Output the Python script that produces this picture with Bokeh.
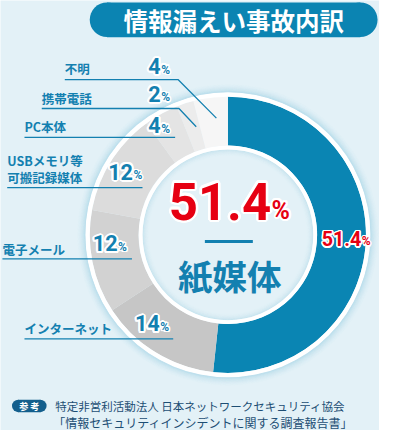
import numpy as np
from bokeh.plotting import figure
from bokeh.models import Range1d
from bokeh.core.properties import value
from bokeh.embed import file_html
from bokeh.resources import INLINE

# ---------------- data ----------------
categories = ["紙媒体", "インターネット", "電子メール", "USBメモリ等\n可搬記録媒体", "PC本体", "携帯電話", "不明"]
values = [51.4, 14, 12, 12, 4, 2, 4]
value_labels = ["51.4", "14", "12", "12", "4", "2", "4"]
title = "情報漏えい事故内訳"
source_badge = "参 考"
source_lines = ["特定非営利活動法人 日本ネットワークセキュリティ協会",
                "「情報セキュリティインシデントに関する調査報告書」"]

# ---------------- styles ----------------
seg_colors = ["#0a85b3", "#c6c6c6", "#d2d2d2", "#dcdcdc", "#e4e4e4", "#ececec", "#f6f6f6"]
BG = "#e3f1f7"
BLUE = "#0b84b2"
TXT_BLUE = "#1380b0"
RED = "#e60012"
NAVY = "#1d4e74"
JP = "'Noto Sans CJK JP', 'Noto Sans'"
NUM = "Roboto"

W, H = 395, 446
PW, PH = 379, 430
S = PW / W


def fs(v):
    return f"{v * S:.1f}px"


def Y(y):
    return H - y


p = figure(width=PW, height=PH, x_range=Range1d(0, W), y_range=Range1d(0, H),
           output_backend="svg", toolbar_location=None, min_border=0,
           x_axis_location=None, y_axis_location=None)
p.grid.visible = False
p.outline_line_color = None
p.background_fill_color = BG
p.border_fill_color = BG


def otext(x, y, txt, size, color, align="left", baseline="middle", font=JP,
          style="bold", ow=0.0, ocolor="white"):
    if ow > 0:
        n = 16
        ang = np.linspace(0, 2 * np.pi, n, endpoint=False)
        p.text(x=[x] * n, y=[y] * n, text=[txt] * n,
               x_offset=list(ow * np.cos(ang)), y_offset=list(ow * np.sin(ang)),
               text_color=ocolor, text_align=align, text_baseline=baseline,
               text_font=value(font), text_font_size=fs(size), text_font_style=style)
    p.text(x=[x], y=[y], text=[txt], text_color=color, text_align=align,
           text_baseline=baseline, text_font=value(font), text_font_size=fs(size),
           text_font_style=style)


def num_pct(x_right, y_center, txt, size, psize, color, ow, pow_):
    # digits right-aligned at x_right, small % after, bottoms aligned
    otext(x_right, Y(y_center), txt, size, color, align="right", font=NUM, ow=ow)
    py = y_center + 0.36 * (size - psize)
    otext(x_right + 0.5, Y(py), "%", psize, color, align="left", font=NUM, ow=pow_)


# ---------------- title banner ----------------
bx0, bx1, by, bh = 93, 393, Y(20), 36
p.rect(x=[(bx0 + bx1) / 2], y=[by], width=[bx1 - bx0 - bh], height=[bh],
       fill_color=BLUE, line_color=None)
p.circle(x=[bx0 + bh / 2, bx1 - bh / 2], y=[by, by], radius=bh / 2,
         fill_color=BLUE, line_color=None)
otext(243, Y(21), title, 25.5, "white", align="center")

# ---------------- donut ----------------
cx, cy = 237, Y(243)
R_in, R_out = 93, 144

for k in range(10):
    a = 0.45 * (1 - k / 10) ** 2
    p.annulus(x=[cx], y=[cy], inner_radius=148 + k, outer_radius=149 + k,
              fill_color="#7fc2dc", fill_alpha=a, line_color=None)
for k in range(7):
    a = 0.3 * (1 - k / 7) ** 2
    p.annulus(x=[cx], y=[cy], inner_radius=89 - k - 1, outer_radius=89 - k,
              fill_color="#8fcadf", fill_alpha=a, line_color=None)

total = sum(values)
fr = np.cumsum([0] + values) / total
start = np.pi / 2 - fr[:-1] * 2 * np.pi
end = np.pi / 2 - fr[1:] * 2 * np.pi
p.annular_wedge(x=cx, y=cy, inner_radius=R_in, outer_radius=R_out,
                start_angle=list(start), end_angle=list(end), direction="clock",
                fill_color=seg_colors, line_color=None)

p.annulus(x=[cx], y=[cy], inner_radius=R_out, outer_radius=R_out + 4.5,
          fill_color="white", line_color=None)
p.annulus(x=[cx], y=[cy], inner_radius=R_in - 4, outer_radius=R_in,
          fill_color="white", line_color=None)

# ---------------- leader lines & labels (gray segments) ----------------
label_pos = {
    1: (25, [340]),
    2: (2, [258]),
    3: (7, [166, 184]),
    4: (25, [131]),
    5: (43, [102]),
    6: (67, [71]),
}
line_paths = {
    1: ([25, 180], [351, 351]),
    2: ([2, 137], [268, 268]),
    3: ([7, 148], [194, 194]),
    4: ([25, 182], [142, 142]),
    5: ([43, 186, 204], [112, 112, 131]),
    6: ([67, 185, 225], [82, 82, 122]),
}
val_pos = {
    1: (166, 335),
    2: (122, 252),
    3: (138, 177.5),
    4: (167, 129.5),
    5: (167, 96.5),
    6: (167, 68),
}

p.multi_line(xs=[line_paths[i][0] for i in range(1, 7)],
             ys=[[Y(v) for v in line_paths[i][1]] for i in range(1, 7)],
             line_color=TXT_BLUE, line_width=1.3)

for i in range(1, 7):
    vx, vy = val_pos[i]
    num_pct(vx, vy, value_labels[i], 22.5, 12.5, TXT_BLUE, 2.0, 1.5)
    lx, lys = label_pos[i]
    for line_txt, ly in zip(categories[i].split("\n"), lys):
        p.text(x=[lx], y=[Y(ly)], text=[line_txt], text_color=TXT_BLUE,
               text_align="left", text_baseline="middle", text_font=value(JP),
               text_font_size=fs(13), text_font_style="bold")

# value on blue ring
num_pct(376, 247, value_labels[0], 20.5, 12.5, RED, 1.5, 1.2)

# ---------------- center ----------------
num_pct(282, 208, value_labels[0], 53, 26, RED, 2.5, 2.0)
p.segment(x0=[213], y0=[Y(250)], x1=[263], y1=[Y(250)], line_color=TXT_BLUE,
          line_width=3)
otext(239, Y(285), categories[0], 36, TXT_BLUE, align="center")

# ---------------- source ----------------
p.rect(x=[30], y=[Y(420.5)], width=[23], height=[13], fill_color="#135f8d",
       line_color=None)
p.circle(x=[18.5, 41.5], y=[Y(420.5)] * 2, radius=6.5, fill_color="#135f8d",
         line_color=None)
otext(30, Y(420.5), source_badge, 9.5, "white", align="center")
otext(57, Y(421), source_lines[0], 12, NAVY, align="left", style="normal")
otext(55, Y(438), source_lines[1], 12.5, NAVY, align="left", style="normal")

open("out.html", "w").write(file_html(p, INLINE))
